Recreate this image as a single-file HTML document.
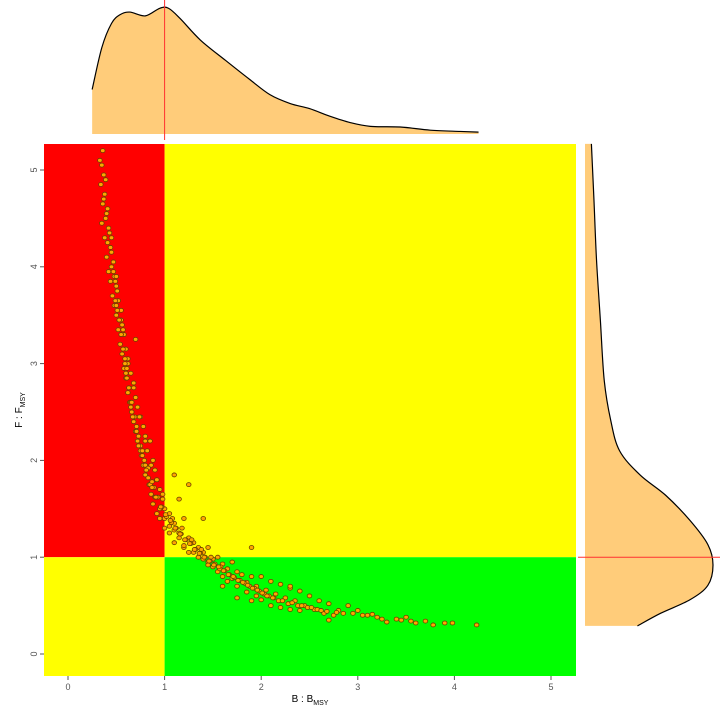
<!DOCTYPE html>
<html><head><meta charset="utf-8"><style>
body{margin:0;background:#fff;}
svg{font-family:"Liberation Sans",sans-serif;}
</style></head><body>
<svg id="c" width="720" height="720" viewBox="0 0 720 720"></svg>
<script>
const xTicks=[0,1,2,3,4,5];
const yTicks=[0,1,2,3,4,5];
const ptsB=[0.36,0.35,0.37,0.34,0.38,0.36,0.4,0.35,0.42,0.38,0.44,0.4,0.45,0.42,0.48,0.44,0.5,0.46,0.52,0.48,0.55,0.5,0.56,0.52,0.58,0.54,0.6,0.7,0.56,0.62,0.58,0.65,0.6,0.68,0.62,0.7,0.64,0.72,0.66,0.75,0.68,0.78,0.7,0.8,0.72,0.85,0.75,0.82,0.76,0.88,0.78,0.9,0.8,0.92,0.84,0.95,0.86,1.1,1.25,0.98,0.88,1.0,0.92,1.05,1.15,0.95,1.1,1.0,1.2,1.4,1.05,1.15,1.25,1.1,1.3,1.2,1.35,1.45,1.25,1.4,1.55,1.35,1.5,1.9,1.45,1.6,1.7,1.5,1.55,1.65,1.75,1.6,1.8,1.9,1.7,2.0,1.65,1.85,2.1,1.75,1.95,2.2,1.6,2.05,2.3,1.85,2.15,2.4,1.95,2.25,2.5,2.0,2.35,2.6,1.75,2.1,2.45,2.7,2.9,2.3,2.55,2.8,3.0,2.2,2.65,2.95,3.1,2.4,3.2,2.7,3.4,3.3,3.5,3.55,3.6,3.78,3.9,3.98,4.23,1.9,2.3,2.75,
0.5,0.55,0.6,0.65,0.7,0.75,0.8,0.85,0.9,0.95,1.0,1.05,1.1,1.15,1.2,1.3,1.35,1.4,1.45,0.45,0.5,0.55,0.62,0.68,0.74,0.8,0.86,0.92,0.98,1.08,1.18,1.28,1.38,1.48,1.58,
0.33,0.39,0.41,0.37,0.43,0.39,0.47,0.41,0.49,0.45,0.51,0.47,0.53,0.49,0.57,0.51,0.59,0.53,0.61,0.55,0.63,0.57,0.66,0.59,0.69,0.61,0.71,0.63,0.73,0.65,0.77,0.67,0.79,0.71,0.83,0.73,0.87,0.77,0.89,0.81,0.93,0.83,0.97,0.87,1.02,0.91,1.07,0.96,1.12,1.01,1.17,1.06,1.22,1.11,1.27,1.16,1.32,1.21,1.37,1.26,1.42,1.31,1.47,1.36,1.52,1.41,1.57,1.46,1.62,1.51,1.67,1.56,1.72,1.61,1.78,1.66,1.83,1.71,1.88,1.76,1.93,1.81,1.98,1.86,2.03,1.91,2.08,1.96,2.13,2.01,2.18,2.06,2.28,2.12,2.38,2.22,2.48,2.32,2.58,2.42,2.68,2.52,2.85,2.62,3.05,2.78,3.25,3.15,3.45,3.7];
const ptsF=[5.2,5.05,4.95,4.85,4.75,4.65,4.55,4.45,4.4,4.3,4.2,4.1,4.0,3.95,3.9,3.85,3.8,3.7,3.65,3.6,3.55,3.5,3.4,3.35,3.3,3.2,3.15,3.25,3.1,3.0,2.95,2.9,2.85,2.8,2.7,2.65,2.6,2.55,2.5,2.45,2.4,2.35,2.3,2.25,2.2,2.2,2.15,2.1,2.05,2.0,1.95,1.9,1.85,1.8,1.75,1.7,1.65,1.85,1.75,1.6,1.55,1.5,1.45,1.45,1.6,1.4,1.35,1.3,1.4,1.4,1.25,1.25,1.2,1.15,1.15,1.1,1.1,1.1,1.05,1.05,1.0,1.0,0.98,1.1,0.95,0.93,0.95,0.9,0.85,0.88,0.85,0.8,0.82,0.8,0.78,0.8,0.75,0.74,0.75,0.7,0.7,0.72,0.7,0.66,0.68,0.64,0.62,0.65,0.6,0.58,0.6,0.56,0.55,0.55,0.58,0.5,0.5,0.52,0.5,0.46,0.46,0.45,0.45,0.48,0.42,0.42,0.4,0.45,0.38,0.35,0.36,0.33,0.38,0.34,0.32,0.3,0.32,0.32,0.3,0.55,0.7,0.4,
3.6,3.3,2.9,2.6,2.3,2.1,1.95,1.75,1.62,1.5,1.4,1.32,1.28,1.2,1.12,1.05,1.0,0.98,0.92,4.3,3.9,3.45,3.05,2.75,2.45,2.2,1.95,1.8,1.65,1.4,1.3,1.18,1.08,1.0,0.9,
5.1,4.9,4.6,4.7,4.35,4.5,4.05,4.25,3.85,4.15,3.75,3.95,3.45,3.65,3.35,3.55,3.05,3.45,2.95,3.3,2.75,3.15,2.6,3.0,2.45,2.85,2.35,2.75,2.25,2.55,2.1,2.45,2.0,2.3,1.92,2.15,1.78,2.05,1.72,1.9,1.62,1.82,1.52,1.72,1.42,1.62,1.36,1.52,1.3,1.44,1.24,1.38,1.18,1.3,1.14,1.24,1.08,1.18,1.04,1.14,1.0,1.08,0.96,1.04,0.93,1.0,0.88,0.96,0.86,0.92,0.82,0.9,0.79,0.86,0.76,0.82,0.73,0.8,0.7,0.76,0.68,0.74,0.65,0.71,0.62,0.68,0.6,0.66,0.58,0.63,0.55,0.6,0.52,0.58,0.5,0.55,0.48,0.53,0.46,0.5,0.44,0.48,0.42,0.45,0.4,0.43,0.36,0.41,0.35,0.34];
const topB=[0.25,0.35,0.45,0.54,0.64,0.8,0.95,1.04,1.16,1.37,1.63,1.88,2.09,2.3,2.5,2.71,2.92,3.13,3.44,3.75,4.06,4.25];
const topD=[0.35,0.68,0.87,0.94,0.96,0.93,0.99,0.99,0.91,0.74,0.58,0.43,0.31,0.24,0.2,0.14,0.09,0.06,0.055,0.03,0.02,0.015];
const rightF=[0.29,0.42,0.56,0.71,0.92,1.13,1.38,1.64,1.85,2.1,2.42,2.83,3.45,4.07,4.69,5.27];
const rightD=[0.41,0.59,0.82,0.96,1.0,0.96,0.82,0.63,0.43,0.27,0.2,0.15,0.12,0.09,0.07,0.05];
const NS="http://www.w3.org/2000/svg";
const svg=document.getElementById('c');
const X=v=>68+v*96.6, Y=v=>654-v*96.8;
function el(t,a,p){const e=document.createElementNS(NS,t);for(const k in a)e.setAttribute(k,a[k]);(p||svg).appendChild(e);return e;}
function smooth(pts){let d='M'+pts[0][0]+','+pts[0][1];for(let i=0;i<pts.length-1;i++){const p0=pts[Math.max(0,i-1)],p1=pts[i],p2=pts[i+1],p3=pts[Math.min(pts.length-1,i+2)];
d+=` C${p1[0]+(p2[0]-p0[0])/6},${p1[1]+(p2[1]-p0[1])/6} ${p2[0]-(p3[0]-p1[0])/6},${p2[1]-(p3[1]-p1[1])/6} ${p2[0]},${p2[1]}`;}return d;}
const x0=44,x1=576,y0=144,y1=676;
let r;
r=el('rect',{x:x0,y:y0,width:X(1)-x0,height:Y(1)-y0,fill:'#ff0000'});
r=el('rect',{x:X(1),y:y0,width:x1-X(1),height:Y(1)-y0,fill:'#ffff00'});
r=el('rect',{x:x0,y:Y(1),width:X(1)-x0,height:y1-Y(1),fill:'#ffff00'});
r=el('rect',{x:X(1),y:Y(1),width:x1-X(1),height:y1-Y(1),fill:'#00ff00'});
for(let i=0;i<Math.min(ptsB.length,ptsF.length);i++){const c=el('ellipse',{cx:X(ptsB[i]),cy:Y(ptsF[i]),rx:2.3,ry:2.0,fill:'#ffa500',stroke:'#6a4000','stroke-width':0.8});
}
xTicks.forEach(t=>{el('line',{x1:X(t),x2:X(t),y1:y1,y2:y1+4,stroke:'#555'});const tx=el('text',{x:X(t),y:690,'font-size':9,fill:'#555','text-anchor':'middle'});tx.textContent=t;
});
yTicks.forEach(t=>{el('line',{x1:x0-4,x2:x0,y1:Y(t),y2:Y(t),stroke:'#555'});const tx=el('text',{x:0,y:0,'font-size':9,fill:'#555','text-anchor':'middle',transform:`translate(37,${Y(t)}) rotate(-90)`});tx.textContent=t;
});
let t=el('text',{x:310,y:702,'font-size':10,fill:'#000','text-anchor':'middle'});t.innerHTML='B : B<tspan font-size="7" dy="3">MSY</tspan>';

t=el('text',{x:0,y:0,'font-size':10,fill:'#000','text-anchor':'middle',transform:'translate(22,410) rotate(-90)'});t.innerHTML='F : F<tspan font-size="7" dy="3">MSY</tspan>';

// top density
const TB=134,TH=127;
const tp=topB.map((b,i)=>[X(b),TB-topD[i]*TH]);
let line=smooth(tp);
let p=el('path',{d:line+` L${tp[tp.length-1][0]},${TB} L${tp[0][0]},${TB}Z`,fill:'#ffcc7a'});
p=el('path',{d:line,fill:'none',stroke:'#000','stroke-width':1.2});
p=el('line',{x1:X(1),x2:X(1),y1:0,y2:140,stroke:'#ff3030','stroke-width':1});
// right density
const RB=585,RW=128;
const rp=rightF.map((f,i)=>[RB+rightD[i]*RW,Y(f)]);
line=smooth(rp);
p=el('path',{d:line+` L${RB},${rp[rp.length-1][1]} L${RB},${rp[0][1]}Z`,fill:'#ffcc7a'});
p=el('path',{d:line,fill:'none',stroke:'#000','stroke-width':1.2});
p=el('line',{x1:578,x2:720,y1:Y(1),y2:Y(1),stroke:'#ff3030','stroke-width':1});
</script>
</body></html>
